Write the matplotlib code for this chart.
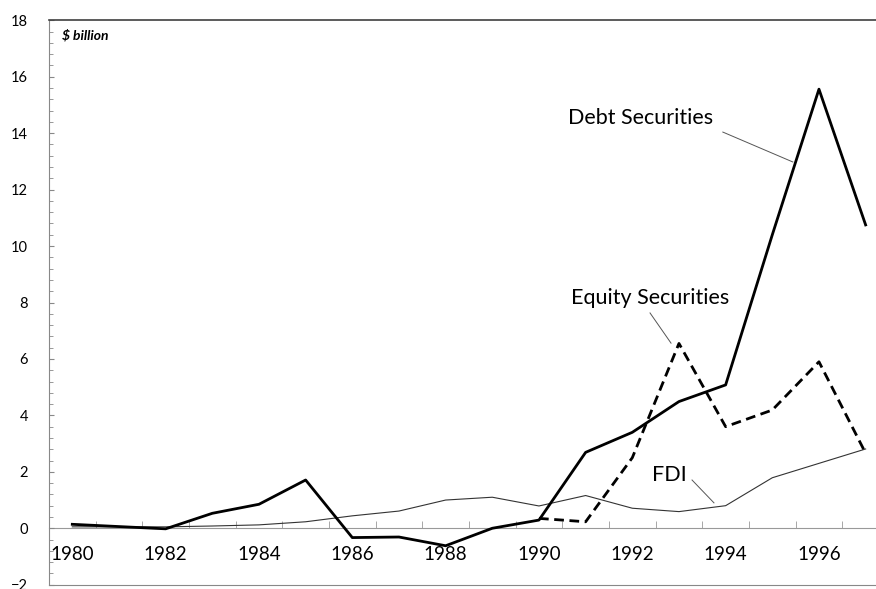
import numpy as np
import matplotlib.pyplot as plt

plt.rcParams['font.family'] = ['Lato', 'DejaVu Sans']

# Data ($ billion)
years = np.arange(1980, 1998)
debt = [0.14, 0.06, -0.02, 0.53, 0.85, 1.71, -0.33, -0.31, -0.62, 0.0,
        0.29, 2.69, 3.40, 4.49, 5.08, 10.4, 15.56, 10.75]
equity_years = np.arange(1990, 1998)
equity = [0.35, 0.23, 2.5, 6.55, 3.6, 4.19, 5.9, 2.66]
fdi = [0.05, 0.05, 0.05, 0.08, 0.12, 0.23, 0.44, 0.61, 1.0, 1.1,
       0.79, 1.16, 0.71, 0.59, 0.8, 1.79, 2.3, 2.81]

fig = plt.figure(figsize=(8.76, 5.89), dpi=100)
ax = fig.add_axes([0.0559, 0.0073, 0.9589, 0.9582])

ax.plot(years, fdi, color='#333333', linewidth=0.8)
ax.plot(equity_years, equity, color='black', linewidth=2.0, dashes=(3.5, 2.0))
ax.plot(years, debt, color='black', linewidth=2.0)

ax.set_xlim(1979.5, 1997.5)
ax.set_ylim(-2, 18)

# frame
ax.spines['right'].set_visible(False)
ax.spines['top'].set_color('#404040')
ax.spines['top'].set_linewidth(1.2)
ax.spines['left'].set_color('#888888')
ax.spines['bottom'].set_color('#888888')

# y axis
ax.set_yticks(np.arange(-2, 19, 2))
ax.set_yticks(np.arange(-2, 18.01, 0.4), minor=True)
ax.tick_params(axis='y', which='major', direction='in', length=3.6, color='#888888',
               labelsize=10.5, pad=15)
ax.tick_params(axis='y', which='minor', direction='in', length=2.9, color='#888888')
ax.tick_params(axis='x', which='both', bottom=False, labelbottom=False)

# category axis crossing at zero
sec = ax.secondary_xaxis(0.1)
sec.set_xticks(years[::2])
sec.set_xticks(np.arange(1980.5, 1997, 1.0), minor=True)
sec.tick_params(which='major', length=0, labelsize=13.5, pad=13)
sec.tick_params(which='minor', direction='in', length=5, color='#999999')
sec.spines['bottom'].set_color('#999999')

# labels
ax.text(1979.78, 17.48, '$ billion', fontsize=10, fontweight='bold', style='italic',
        ha='left', va='center')
ax.text(1992.18, 14.54, 'Debt Securities', fontsize=15.5, ha='center', va='center')
ax.plot([1993.94, 1995.44], [14.04, 12.98], color='#555555', linewidth=0.7)
ax.text(1992.38, 8.16, 'Equity Securities', fontsize=15.5, ha='center', va='center')
ax.plot([1992.38, 1992.83], [7.63, 6.56], color='#555555', linewidth=0.7)
ax.text(1992.79, 1.89, 'FDI', fontsize=15.5, ha='center', va='center')
ax.plot([1993.28, 1993.75], [1.71, 0.90], color='#555555', linewidth=0.7)

fig.savefig('out.png', dpi=100)
